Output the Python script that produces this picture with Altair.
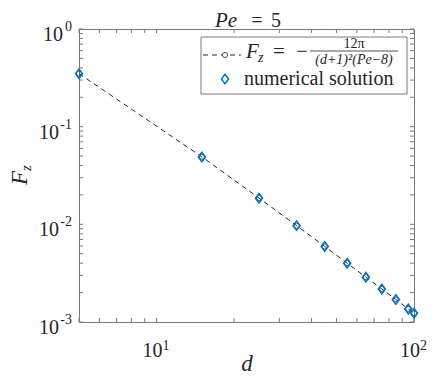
import altair as alt
import pandas as pd

# ---- data ----
d_vals = [5, 15, 25, 35, 45, 55, 65, 75, 85, 95, 100]
fz_analytic = [0.349, 0.0491, 0.0186, 0.0097, 0.00594, 0.00401, 0.00288, 0.00218, 0.00170, 0.00136, 0.00123]
fz_numeric = [0.349, 0.0489, 0.0185, 0.0097, 0.00593, 0.00400, 0.00288, 0.00218, 0.00170, 0.00136, 0.00123]

x_tick_vals = [5, 6, 7, 8, 9, 10, 20, 30, 40, 50, 60, 70, 80, 90, 100]
y_tick_vals = [0.001, 0.002, 0.003, 0.004, 0.005, 0.006, 0.007, 0.008, 0.009,
               0.01, 0.02, 0.03, 0.04, 0.05, 0.06, 0.07, 0.08, 0.09,
               0.1, 0.2, 0.3, 0.4, 0.5, 0.6, 0.7, 0.8, 0.9, 1.0]
x_label_vals = [10, 100]
x_label_exps = ["1", "2"]
y_label_vals = [1.0, 0.1, 0.01, 0.001]
y_label_exps = ["0", "-1", "-2", "-3"]

W, H = 335, 293
SERIF = "Liberation Serif"
TXT = "#262626"
AX = "#7a7a7a"
BLUE = "#0072BD"

df = pd.DataFrame({"d": d_vals, "fa": fz_analytic, "fn": fz_numeric})
df_xt = pd.DataFrame({"v": x_tick_vals})
df_yt = pd.DataFrame({"v": y_tick_vals})
df_xl = pd.DataFrame({"v": x_label_vals, "e": x_label_exps})
df_yl = pd.DataFrame({"v": y_label_vals, "e": y_label_exps})

xs = alt.Scale(type="log", domain=[5, 100], nice=False)
ys = alt.Scale(type="log", domain=[0.001, 1], nice=False)

X = lambda f: alt.X(f, scale=xs, axis=None)
Y = lambda f: alt.Y(f, scale=ys, axis=None)

line = alt.Chart(df).mark_line(color=TXT, strokeDash=[5, 4], strokeWidth=1).encode(
    x=X("d:Q"), y=Y("fa:Q"))
circ = alt.Chart(df).mark_point(shape="circle", filled=False, size=26, color=TXT, strokeWidth=0.8, opacity=1).encode(
    x=X("d:Q"), y=Y("fa:Q"))
DIAM = "M0,-1L0.75,0L0,1L-0.75,0Z"
diam = alt.Chart(df).mark_point(shape=DIAM, filled=False, size=90, color=BLUE, strokeWidth=1.5, opacity=1).encode(
    x=X("d:Q"), y=Y("fn:Q"))

TL = 4
tick_b = alt.Chart(df_xt).mark_rule(color=AX, strokeWidth=1).encode(x=X("v:Q"), y=alt.value(H), y2=alt.value(H - TL))
tick_t = alt.Chart(df_xt).mark_rule(color=AX, strokeWidth=1).encode(x=X("v:Q"), y=alt.value(0), y2=alt.value(TL))
tick_l = alt.Chart(df_yt).mark_rule(color=AX, strokeWidth=1).encode(y=Y("v:Q"), x=alt.value(0), x2=alt.value(TL))
tick_r = alt.Chart(df_yt).mark_rule(color=AX, strokeWidth=1).encode(y=Y("v:Q"), x=alt.value(W), x2=alt.value(W - TL))

# tick labels 10^n
xl10 = alt.Chart(df_xl).mark_text(text="10", align="right", baseline="alphabetic", dx=6, font=SERIF, fontSize=20, color=TXT).encode(
    x=X("v:Q"), y=alt.value(H + 35))
xlexp = alt.Chart(df_xl).mark_text(align="left", baseline="alphabetic", dx=6, font=SERIF, fontSize=14, color=TXT).encode(
    x=X("v:Q"), y=alt.value(H + 28), text="e:N")
yl10a = alt.Chart(df_yl).transform_filter("datum.v > 0.5").mark_text(text="10", align="right", baseline="alphabetic", dy=12, font=SERIF, fontSize=20, color=TXT).encode(
    y=Y("v:Q"), x=alt.value(-16))
yl10b = alt.Chart(df_yl).transform_filter("datum.v < 0.5").mark_text(text="10", align="right", baseline="alphabetic", dy=12, font=SERIF, fontSize=20, color=TXT).encode(
    y=Y("v:Q"), x=alt.value(-20))
ylexp = alt.Chart(df_yl).mark_text(align="right", baseline="alphabetic", dy=2, font=SERIF, fontSize=14, color=TXT).encode(
    y=Y("v:Q"), x=alt.value(-7), text="e:N")


def txt(s, x, y, size=20, style="normal", align="left", angle=0, color=TXT):
    kw = dict(text=s, align=align, baseline="alphabetic", font=SERIF, fontSize=size,
              fontStyle=style, color=color)
    if angle:
        kw["angle"] = angle
    return alt.Chart(df.head(1)).mark_text(**kw).encode(x=alt.value(x), y=alt.value(y))


# title Pe = 5
title = [txt("Pe", 147, -2, 21, "italic", "center"),
         txt("=", 178, -2, 20, "normal", "center"),
         txt("5", 197, -2, 20, "normal", "center")]
# axis titles
xtitle = txt("d", 168, 342, 23, "italic", "center")
ytitle = [txt("F", -52, 149, 23, "italic", "center", 270),
          txt("z", -48, 139, 15, "italic", "center", 270)]

# legend
box = alt.Chart(df.head(1)).mark_rect(fill="white", stroke=AX, strokeWidth=1).encode(
    x=alt.value(122), x2=alt.value(328), y=alt.value(8), y2=alt.value(65))
leg_line = alt.Chart(df.head(1)).mark_rule(color=TXT, strokeDash=[5, 4], strokeWidth=1).encode(
    x=alt.value(124), x2=alt.value(162), y=alt.value(26))
leg_circ = alt.Chart(df.head(1)).mark_point(shape="circle", filled=True, fill="white", stroke=TXT, size=26, strokeWidth=0.8, opacity=1).encode(
    x=alt.value(146), y=alt.value(26))
leg_diam = alt.Chart(df.head(1)).mark_point(shape=DIAM, filled=False, size=90, color=BLUE, strokeWidth=1.5, opacity=1).encode(
    x=alt.value(146), y=alt.value(50))
frac_bar = alt.Chart(df.head(1)).mark_rule(color=TXT, strokeWidth=0.8).encode(
    x=alt.value(231), x2=alt.value(319), y=alt.value(22), )
legend = [box, leg_line, leg_circ, leg_diam, frac_bar,
          txt("F", 167, 29, 21, "italic"),
          txt("z", 179, 33, 14, "italic"),
          txt("=", 194, 29, 21, "normal"),
          txt("\u2212", 217, 29, 21, "normal"),
          txt("12\u03c0", 275, 19, 14, "normal", "center"),
          txt("(d+1)\u00b2(Pe\u22128)", 275, 35, 14, "italic", "center"),
          txt("numerical solution", 165, 56, 20, "normal")]

chart = alt.layer(
    line, circ, diam,
    tick_b, tick_t, tick_l, tick_r,
    xl10, xlexp, yl10a, yl10b, ylexp,
    *title, xtitle, *ytitle, *legend
).properties(
    width=W, height=H,
    autosize=alt.AutoSizeParams(type="none"),
    padding={"left": 71, "top": 21, "right": 14, "bottom": 55},
).configure_view(stroke=AX, strokeWidth=1)

chart.save("out.html", embed_options={"renderer": "svg", "actions": False})
